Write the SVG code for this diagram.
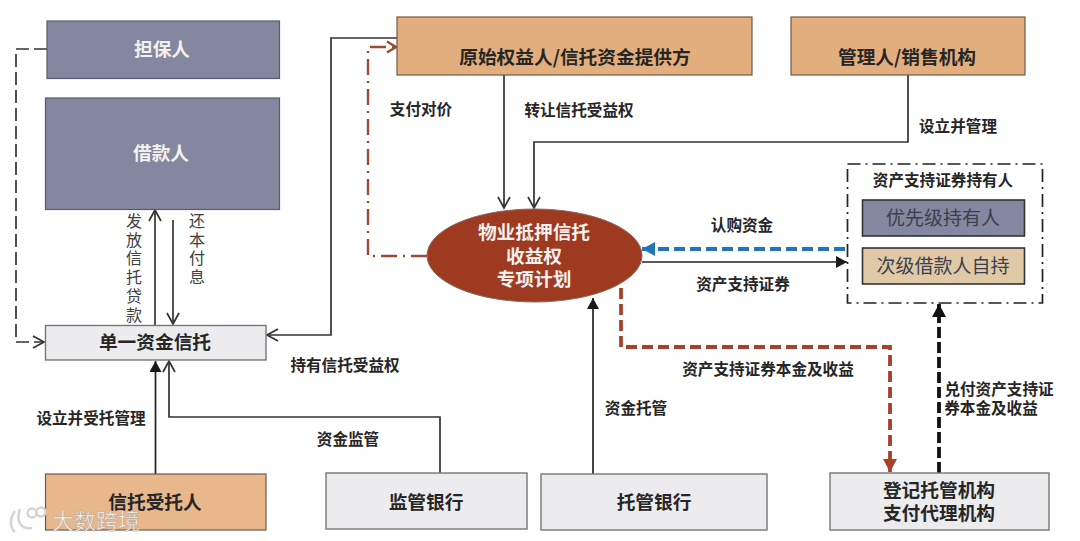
<svg xmlns="http://www.w3.org/2000/svg" width="1080" height="541" viewBox="0 0 1080 541">
<style>
text{font-family:"Noto Sans CJK SC","Noto Sans",sans-serif;text-anchor:middle}
.t{font-size:18.700px;font-weight:700;fill:#262626}
.w{font-size:18.700px;font-weight:700;fill:#f4f0ee}
.l{font-size:15.600px;font-weight:700;fill:#262626}
.v{font-size:16px;font-weight:400;fill:#404040;writing-mode:vertical-rl;text-anchor:start;letter-spacing:2.700px}
.r{font-size:19px;font-weight:400;fill:#3c3f4c}
.blue{fill:#83879f;stroke:#595c6b;stroke-width:1.200}
.org{fill:#e3ae7d;stroke:#6f5a48;stroke-width:1.200}
.org2{fill:#e8b78c;stroke:#6f5a48;stroke-width:1.200}
.gry{fill:#ececef;stroke:#77777a;stroke-width:1.400}
.c{fill:none;stroke:#333;stroke-width:1.700}
</style>
<defs>
<marker id="open" markerUnits="userSpaceOnUse" markerWidth="14" markerHeight="16" refX="12" refY="7" orient="auto"><path d="M1 1L12 7L1 13" fill="none" stroke="#333" stroke-width="1.700"/></marker>
<marker id="bro" markerUnits="userSpaceOnUse" markerWidth="14" markerHeight="16" refX="12" refY="7" orient="auto"><path d="M3 1.500L12 7L3 12.500" fill="none" stroke="#9c4a35" stroke-width="2.400"/></marker>
<marker id="fill" markerUnits="userSpaceOnUse" markerWidth="14" markerHeight="14" refX="11" refY="6" orient="auto"><path d="M0 0L11 6L0 12Z" fill="#1a1a1a"/></marker>
<marker id="fbig" markerUnits="userSpaceOnUse" markerWidth="16" markerHeight="16" refX="13" refY="7" orient="auto"><path d="M0 0L13 7L0 14Z" fill="#111"/></marker>
<marker id="fblue" markerUnits="userSpaceOnUse" markerWidth="16" markerHeight="16" refX="13" refY="7" orient="auto"><path d="M0 0L13 7L0 14Z" fill="#1f78b4"/></marker>
<marker id="fred" markerUnits="userSpaceOnUse" markerWidth="16" markerHeight="16" refX="13" refY="7" orient="auto"><path d="M0 0L13 7L0 14Z" fill="#a8412a"/></marker>
</defs>
<rect width="1080" height="541" fill="#fff"/>

<g id="connectors">
<path d="M47 49H16V342H44" fill="none" stroke="#333" stroke-width="1.700" stroke-dasharray="13 5" marker-end="url(#open)"/>
<path class="c" d="M397 38H331V335H267" marker-end="url(#open)"/>
<path d="M427 256H368V47H396" fill="none" stroke="#9c4a35" stroke-width="2.400" stroke-dasharray="16 6 2 6" marker-end="url(#bro)"/>
<path class="c" d="M504 75V208" marker-end="url(#open)"/>
<path class="c" d="M908 75V142H534V208" marker-end="url(#open)"/>
<path d="M845 249H642" fill="none" stroke="#1f78b4" stroke-width="3.800" stroke-dasharray="11 5" marker-end="url(#fblue)"/>
<path d="M642 262H847" fill="none" stroke="#222" stroke-width="1.700" marker-end="url(#fill)"/>
<path d="M621 288V347H890V472" fill="none" stroke="#a8412a" stroke-width="3.800" stroke-dasharray="11 5" marker-end="url(#fred)"/>
<path d="M939 473V304" fill="none" stroke="#111" stroke-width="3.800" stroke-dasharray="11 4" marker-end="url(#fbig)"/>
<path d="M593 474V298" fill="none" stroke="#222" stroke-width="1.700" marker-end="url(#fill)"/>
<path class="c" d="M440 473V417H169V361" marker-end="url(#open)"/>
<path d="M155.500 474V361" fill="none" stroke="#222" stroke-width="1.700" marker-end="url(#fill)"/>
<path class="c" d="M155 325V210" marker-end="url(#open)"/>
<path class="c" d="M173 220V324" marker-end="url(#open)"/>
</g>

<g id="guarantor"><rect class="blue" x="47" y="21" width="232.500" height="57.500"/><text class="w" x="162" y="56">担保人</text></g>
<g id="borrower"><rect class="blue" x="45.500" y="98" width="234" height="111.500"/><text class="w" x="161" y="160">借款人</text></g>
<g id="single-trust"><rect class="gry" x="45.500" y="325.500" width="220.500" height="34.500"/><text class="t" x="155" y="349">单一资金信托</text></g>
<g id="trustee"><rect class="org2" x="45.500" y="474" width="220.500" height="56"/><text class="t" x="155" y="509">信托受托人</text></g>
<g id="supervisor-bank"><rect class="gry" x="326" y="473" width="201" height="56"/><text class="t" x="426" y="509">监管银行</text></g>
<g id="custody-bank"><rect class="gry" x="541" y="474" width="226" height="56"/><text class="t" x="654" y="509">托管银行</text></g>
<g id="registrar"><rect class="gry" x="830" y="473" width="219" height="57"/><text class="t" x="939" y="497">登记托管机构</text><text class="t" x="939" y="520">支付代理机构</text></g>
<g id="originator"><rect class="org" x="397" y="17" width="355" height="58"/><text class="t" x="575" y="64">原始权益人/信托资金提供方</text></g>
<g id="manager"><rect class="org" x="791" y="17" width="234" height="58"/><text class="t" x="907" y="64">管理人/销售机构</text></g>
<g id="plan"><ellipse cx="534.500" cy="255.500" rx="107.500" ry="46.500" fill="#9e3a20" stroke="#8a6a60" stroke-width="1"/><text class="w" x="534" y="239">物业抵押信托</text><text class="w" x="534" y="263">收益权</text><text class="w" x="534" y="286">专项计划</text></g>
<g id="holders">
<rect x="847.500" y="164" width="195" height="139" fill="none" stroke="#222" stroke-width="1.700" stroke-dasharray="13 5 2 5"/>
<text class="l" x="943" y="186">资产支持证券持有人</text>
<rect x="862.500" y="200" width="162" height="36" fill="#83879f" stroke="#333" stroke-width="1.600"/><text class="r" x="943" y="225">优先级持有人</text>
<rect x="862.500" y="248" width="162" height="36" fill="#e0c9a6" stroke="#333" stroke-width="1.600"/><text class="r" x="943" y="273">次级借款人自持</text>
</g>

<g id="labels">
<text class="l" x="421" y="115">支付对价</text>
<text class="l" x="579" y="116">转让信托受益权</text>
<text class="l" x="958" y="132">设立并管理</text>
<text class="l" x="742" y="231">认购资金</text>
<text class="l" x="743" y="290">资产支持证券</text>
<text class="l" x="345" y="371">持有信托受益权</text>
<text class="l" x="91" y="424">设立并受托管理</text>
<text class="l" x="348" y="445">资金监管</text>
<text class="l" x="636" y="414">资金托管</text>
<text class="l" x="768" y="375">资产支持证券本金及收益</text>
<text class="l" x="999" y="395">兑付资产支持证</text>
<text class="l" x="991" y="414">券本金及收益</text>
<text class="v" x="134" y="213">发放信托贷款</text>
<text class="v" x="197" y="213">还本付息</text>
</g>

<g id="watermark" fill="none" stroke="#d4d4d4" stroke-width="2.500">
<path d="M15 511C9 519 10 528 15 532M20 509C16 520 20 530 32 528"/>
<circle cx="32" cy="513" r="4.500"/><circle cx="41" cy="512" r="4.500"/>
<text x="96" y="529" style="font-size:22px;font-weight:400;fill:#fff;fill-opacity:.85;stroke:#9a9a9a;stroke-width:.6px;stroke-opacity:.7">大数跨境</text>
</g>
</svg>
